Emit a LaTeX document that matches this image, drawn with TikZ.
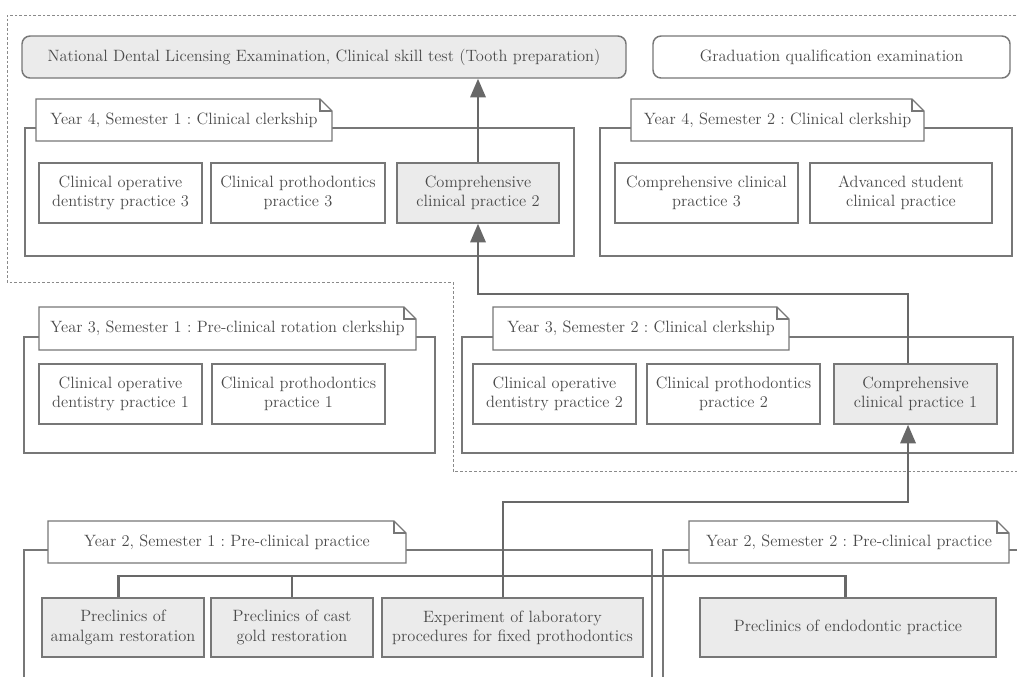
\documentclass[tikz,border=0pt]{standalone}
\usetikzlibrary{arrows.meta}
\definecolor{ln}{HTML}{777777}
\definecolor{cn}{HTML}{686868}
\definecolor{fl}{HTML}{EBEBEB}
\definecolor{tx}{HTML}{4A4A4A}
\definecolor{dl}{HTML}{8A8A8A}
\tikzset{
  txtfont/.style={font=\fontsize{12.3}{14.5}\selectfont\frenchspacing, text=tx},
  box/.style={draw=ln, line width=1.1pt, fill=white, inner sep=0pt, align=center, txtfont},
  gbox/.style={box, fill=fl},
  cont/.style={draw=ln, line width=1pt, fill=white},
  tabln/.style={draw=ln, line width=1pt, fill=white, line join=miter},
  tabtxt/.style={inner sep=0pt, txtfont},
  conn/.style={draw=cn, line width=1.8pt},
  arr/.style={conn, -{Triangle[length=14pt,width=11.5pt]}},
  dsh/.style={draw=dl, line width=0.7pt, dash pattern=on 2pt off 1.5pt}
}
% box from pixel corners: style, x1, y1, x2, y2, name
\newcommand\bxn[6]{\node[#1, minimum width={(#4-#2)*0.75pt}, minimum height={(#5-#3)*0.75pt}] (#6) at ({(#2+#4)/2},{(#3+#5)/2})}
\newcommand\notetab[6]{%
  \draw[tabln] (#2,#5) -- (#2,#3) -- (#4-12,#3) -- (#4,#3+12) -- (#4,#5) -- cycle;
  \draw[tabln, fill=none] (#4-12,#3) -- (#4-12,#3+12) -- (#4,#3+12);
  \node[tabtxt] (#1) at ({(#2+#4)/2},{(#3+#5)/2}) {#6};}
\begin{document}
\begin{tikzpicture}[x=0.75pt,y=-0.75pt]
\useasboundingbox (0,0) rectangle (1017,676);
% dashed region
\draw[dsh] (1030,15) -- (7,15) -- (7,282) -- (453,282) -- (453,471) -- (1030,471);
% top exams
\bxn{gbox, rounded corners=6pt}{22}{36}{626}{78}{nat} {National Dental Licensing Examination, Clinical skill test (Tooth preparation)};
\bxn{box, rounded corners=6pt}{653}{36}{1010}{78}{grad} {Graduation qualification examination};
% containers
\draw[cont] (25,128) rectangle (574,256);
\draw[cont] (600,128) rectangle (1012,256);
\draw[cont] (24,337) rectangle (435,453);
\draw[cont] (462,337) rectangle (1013,453);
\draw[cont] (24,550) rectangle (652,700);
\draw[cont] (663,550) rectangle (1030,700);
% tabs
\notetab{t41}{36}{99}{332}{141}{Year 4, Semester 1 : Clinical clerkship}
\notetab{t42}{631}{99}{924}{141}{Year 4, Semester 2 : Clinical clerkship}
\notetab{t31}{39}{307}{416}{350}{Year 3, Semester 1 : Pre-clinical rotation clerkship}
\notetab{t32}{493}{307}{789}{350}{Year 3, Semester 2 : Clinical clerkship}
\notetab{t21}{48}{521}{406}{563}{Year 2, Semester 1 : Pre-clinical practice}
\notetab{t22}{689}{521}{1009}{563}{Year 2, Semester 2 : Pre-clinical practice}
% Year 4 S1
\bxn{box}{39}{163}{202}{223}{cod3} {Clinical operative\\dentistry practice 3};
\bxn{box}{211}{163}{385}{223}{cp3} {Clinical prothodontics\\practice 3};
\bxn{gbox}{397}{163}{559}{223}{ccp2} {Comprehensive\\clinical practice 2};
% Year 4 S2
\bxn{box}{615}{163}{798}{223}{ccp3} {Comprehensive clinical\\practice 3};
\bxn{box}{810}{163}{992}{223}{adv} {Advanced student\\clinical practice};
% Year 3 S1
\bxn{box}{39}{364}{202}{424}{cod1} {Clinical operative\\dentistry practice 1};
\bxn{box}{212}{364}{385}{424}{cp1} {Clinical prothodontics\\practice 1};
% Year 3 S2
\bxn{box}{473}{364}{636}{424}{cod2} {Clinical operative\\dentistry practice 2};
\bxn{box}{647}{364}{820}{424}{cp2} {Clinical prothodontics\\practice 2};
\bxn{gbox}{834}{364}{997}{424}{ccp1} {Comprehensive\\clinical practice 1};
% Year 2
\bxn{gbox}{42}{598}{204}{657}{am} {Preclinics of\\amalgam restoration};
\bxn{gbox}{211}{598}{373}{657}{cg} {Preclinics of cast\\gold restoration};
\bxn{gbox}{382}{598}{643}{657}{exp} {Experiment of laboratory\\procedures for fixed prothodontics};
\bxn{gbox}{700}{598}{996}{657}{endo} {Preclinics of endodontic practice};
% connectors
\draw[conn] ([xshift=-3.5pt]am.north) -- ++(0,-21) -| ([xshift=-2pt]endo.north);
\draw[conn] (cg.north) -- ++(0,-21);
\draw[arr] ([xshift=-7.1pt]exp.north) -- ++(0,-95) -| ([xshift=-5.6pt]ccp1.south);
\draw[arr] ([xshift=-5.6pt]ccp1.north) -- ++(0,-69) -| (ccp2.south);
\draw[arr] (ccp2.north) -- (ccp2.north |- nat.south);
\end{tikzpicture}
\end{document}
